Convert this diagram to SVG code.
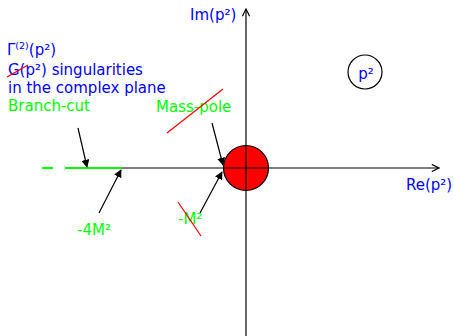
<svg xmlns="http://www.w3.org/2000/svg" width="454" height="336" viewBox="0 0 454 336">
<style>
text{font-family:"DejaVu Sans",sans-serif;font-size:15px}
.b{fill:#0000ff}.g{fill:#00ff00}
.ax{stroke:#000;stroke-width:1.2;fill:none}
.ptr{stroke:#000;stroke-width:1.2;fill:none;marker-end:url(#ah)}
.red{stroke:#ff0000;stroke-width:1.2}
.gr{stroke:#00ff00;stroke-width:2.2}
</style>
<defs>
<marker id="ah" viewBox="0 0 10 10" refX="9" refY="5" markerWidth="8" markerHeight="8" markerUnits="userSpaceOnUse" orient="auto"><path d="M0,0L10,5L0,10z" fill="#000"/></marker>
<marker id="oh" viewBox="0 0 10 10" refX="9" refY="5" markerWidth="9" markerHeight="9" markerUnits="userSpaceOnUse" orient="auto"><path d="M1,1L9,5L1,9" fill="none" stroke="#000" stroke-width="1.3"/></marker>
</defs>
<g id="axes">
<line class="ax" x1="122" y1="168" x2="439" y2="168" marker-end="url(#oh)"/>
<line class="ax" x1="246" y1="336" x2="246" y2="9" marker-end="url(#oh)"/>
<text class="b" x="190" y="20">Im(p²)</text>
<text class="b" x="406" y="190">Re(p²)</text>
</g>
<g id="branch-cut">
<line class="gr" x1="42" y1="168" x2="53" y2="168"/>
<line class="gr" x1="65" y1="168" x2="122" y2="168"/>
</g>
<g id="pole">
<circle cx="246" cy="168" r="22.5" fill="#ff0000" stroke="#000" stroke-width="1.2"/>
<line class="ax" x1="246" y1="145" x2="246" y2="191"/>
<line class="ax" x1="223" y1="168" x2="269" y2="168"/>
</g>
<g id="title">
<text class="b" x="7" y="55">Γ<tspan font-size="9.5" dy="-6">(2)</tspan><tspan dy="6">(p²)</tspan></text>
<text class="b" x="8" y="75">G(p²) singularities</text>
<line class="red" x1="7" y1="77" x2="28" y2="65"/>
<text class="b" x="8" y="93">in the complex plane</text>
</g>
<g id="p2">
<circle cx="365" cy="72" r="17" fill="#fff" stroke="#000" stroke-width="1.2"/>
<text class="b" x="366" y="79" text-anchor="middle">p²</text>
</g>
<g id="labels">
<text class="g" x="8" y="111">Branch-cut</text>
<text class="g" x="156" y="112">Mass-pole</text>
<line class="red" x1="167" y1="133" x2="223" y2="89"/>
<text class="g" x="77" y="235">-4M²</text>
<text class="g" x="178" y="224">-M²</text>
<line class="red" x1="178" y1="202" x2="201" y2="236"/>
</g>
<g id="connectors">
<line class="ptr" x1="78" y1="128" x2="87" y2="167"/>
<line class="ptr" x1="99" y1="213" x2="121" y2="170"/>
<line class="ptr" x1="212" y1="123" x2="223" y2="165"/>
<line class="ptr" x1="200" y1="213" x2="222" y2="172"/>
</g>
</svg>
